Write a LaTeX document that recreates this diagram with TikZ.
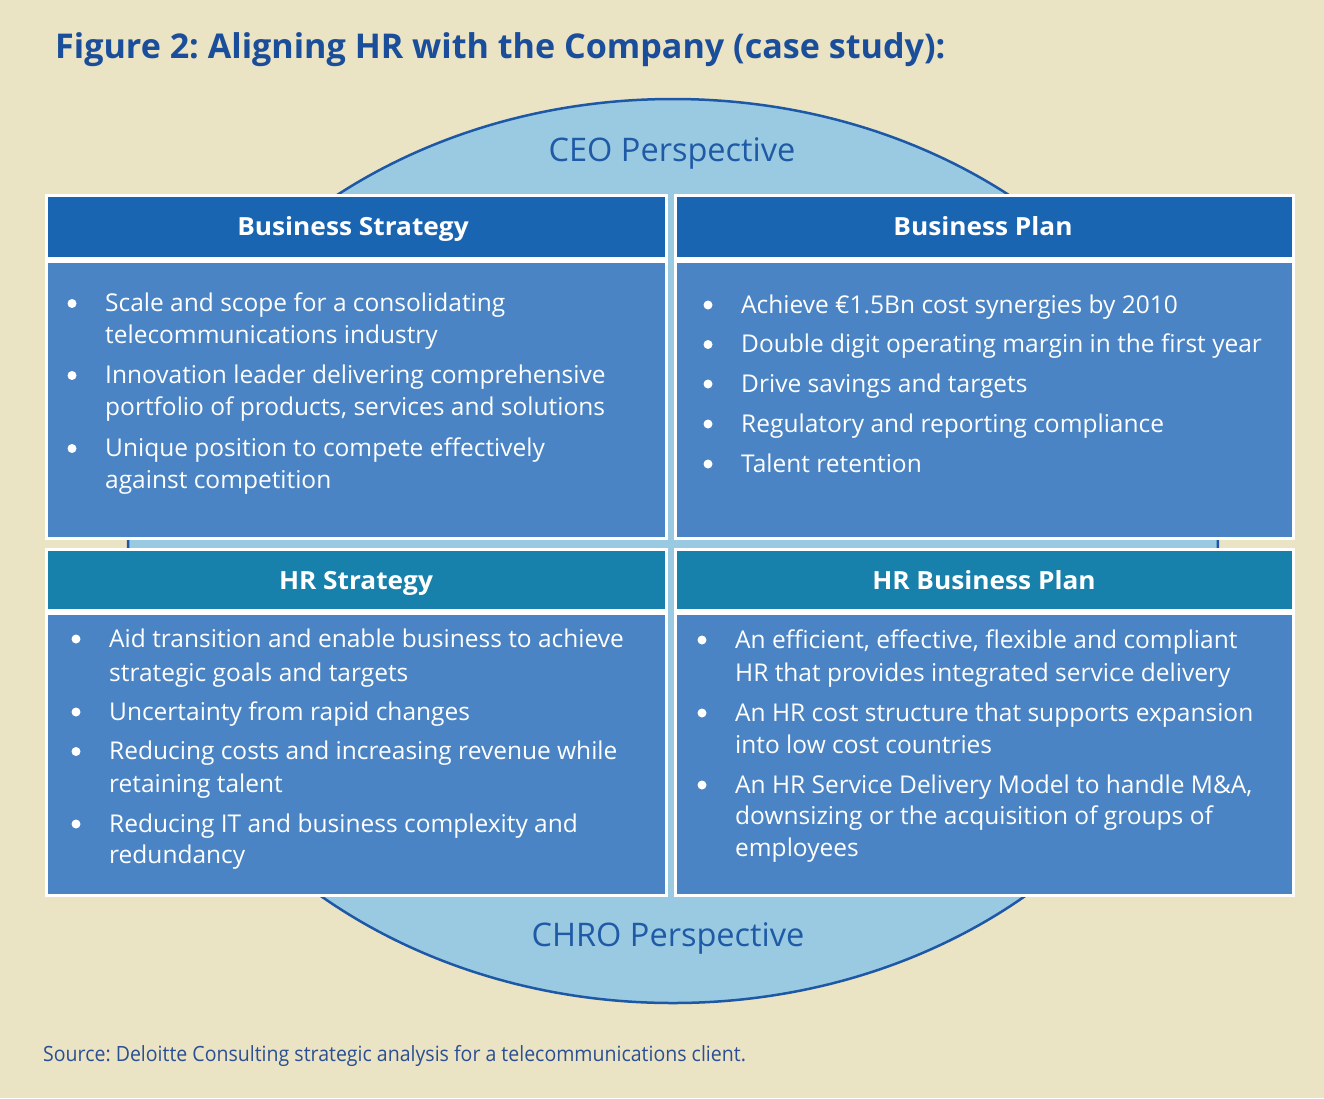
\documentclass[tikz,border=0pt]{standalone}
\usepackage{fontspec}
\setmainfont{Open Sans}
\newfontfamily\bodyf{Open Sans}
\newfontfamily\hdrf[FakeStretch=1.05]{Open Sans}
\newfontfamily\srcf[FakeStretch=0.93]{Open Sans}
\definecolor{bgc}{HTML}{EAE3C4}
\definecolor{ellfill}{HTML}{9ACAE1}
\definecolor{elldraw}{HTML}{1C58A6}
\definecolor{hdrblue}{HTML}{1A65B2}
\definecolor{hdrteal}{HTML}{1781AB}
\definecolor{bodyblue}{HTML}{4A84C4}
\definecolor{titlec}{HTML}{1A4E9A}
\definecolor{persp}{HTML}{1F5AA6}
\definecolor{srcc}{HTML}{2B4F92}
\frenchspacing
\tikzset{
  cell/.style={draw=white, line width=3pt},
  hdrtxt/.style={anchor=base, text=white, font=\hdrf\bfseries\fontsize{25}{28}\selectfont, inner sep=0},
  txt/.style={anchor=base west, inner sep=0, text=white, font=\bodyf\fontsize{24.5}{28}\selectfont},
  bul/.style={circle, fill=white, inner sep=0, minimum size=9pt},
  persptxt/.style={anchor=base, text=persp, font=\bodyf\fontsize{32.5}{40}\selectfont, inner sep=0}
}
\begin{document}
\begin{tikzpicture}[x=1pt,y=-1pt]
\fill[bgc] (0,0) rectangle (1324,1098);
\useasboundingbox (0,0) rectangle (1324,1098);
% title
\node[anchor=base west, inner sep=0, text=titlec, font=\bfseries\fontsize{34.1}{40}\selectfont] (title) at (55,58) {Figure 2: Aligning HR with the Company (case study):};
% ellipse
\draw[fill=ellfill, draw=elldraw, line width=2.5pt] (673,551) ellipse [x radius=545, y radius=452];
\node[persptxt] (ceo) at (672,161.5) {CEO Perspective};
\node[persptxt] (chro) at (668,946.5) {CHRO Perspective};
% cells
\filldraw[cell, fill=hdrblue] (46,195) rectangle (666,258);
\filldraw[cell, fill=bodyblue] (46,261) rectangle (666,538);
\filldraw[cell, fill=hdrblue] (675,195) rectangle (1293,258);
\filldraw[cell, fill=bodyblue] (675,261) rectangle (1293,538);
\filldraw[cell, fill=hdrteal] (46,549) rectangle (666,610);
\filldraw[cell, fill=bodyblue] (46,613) rectangle (666,895);
\filldraw[cell, fill=hdrteal] (675,549) rectangle (1293,610);
\filldraw[cell, fill=bodyblue] (675,613) rectangle (1293,895);
% headers
\node[hdrtxt] (h1) at (353,235.5) {Business Strategy};
\node[hdrtxt] (h2) at (983,235.5) {Business Plan};
\node[hdrtxt] (h3) at (356,589.5) {HR Strategy};
\node[hdrtxt] (h4) at (984,589.5) {HR Business Plan};
% Business Strategy
\node[bul] (b11) at (72,303.5) {};
\node[bul] (b12) at (72,375.5) {};
\node[bul] (b13) at (72,448.5) {};
\node[txt] (t11a) at (105,311.5) {Scale and scope for a consolidating};
\node[txt] (t11b) at (105,343.5) {telecommunications industry};
\node[txt] (t12a) at (105,383.5) {Innovation leader delivering comprehensive};
\node[txt] (t12b) at (105,415.5) {portfolio of products, services and solutions};
\node[txt] (t13a) at (105,456.5) {Unique position to compete effectively};
\node[txt] (t13b) at (105,488.5) {against competition};
% Business Plan
\node[bul] (b21) at (708,305) {};
\node[bul] (b22) at (708,344.5) {};
\node[bul] (b23) at (708,384) {};
\node[bul] (b24) at (708,424) {};
\node[bul] (b25) at (708,464) {};
\node[txt] (t21) at (741,313) {Achieve €1.5Bn cost synergies by 2010};
\node[txt] (t22) at (741,352.5) {Double digit operating margin in the first year};
\node[txt] (t23) at (741,392) {Drive savings and targets};
\node[txt] (t24) at (741,432) {Regulatory and reporting compliance};
\node[txt] (t25) at (741,472) {Talent retention};
% HR Strategy
\node[bul] (b31) at (76,639) {};
\node[bul] (b32) at (76,712) {};
\node[bul] (b33) at (76,751.5) {};
\node[bul] (b34) at (76,824) {};
\node[txt] (t31a) at (109,647) {Aid transition and enable business to achieve};
\node[txt] (t31b) at (109,681) {strategic goals and targets};
\node[txt] (t32) at (109,720) {Uncertainty from rapid changes};
\node[txt] (t33a) at (109,759.5) {Reducing costs and increasing revenue while};
\node[txt] (t33b) at (109,792) {retaining talent};
\node[txt] (t34a) at (109,832) {Reducing IT and business complexity and};
\node[txt] (t34b) at (109,863.5) {redundancy};
% HR Business Plan
\node[bul] (b41) at (702,640) {};
\node[bul] (b42) at (702,713) {};
\node[bul] (b43) at (702,785) {};
\node[txt] (t41a) at (735,648) {An efficient, effective, flexible and compliant};
\node[txt] (t41b) at (735,681) {HR that provides integrated service delivery};
\node[txt] (t42a) at (735,721) {An HR cost structure that supports expansion};
\node[txt] (t42b) at (735,753) {into low cost countries};
\node[txt] (t43a) at (735,793) {An HR Service Delivery Model to handle M\&A,};
\node[txt] (t43b) at (735,824.5) {downsizing or the acquisition of groups of};
\node[txt] (t43c) at (735,856.5) {employees};
% source
\node[anchor=base west, inner sep=0, text=srcc, font=\srcf\fontsize{21}{24}\selectfont] (src) at (43,1061) {Source: Deloitte Consulting strategic analysis for a telecommunications client.};
\end{tikzpicture}
\end{document}
